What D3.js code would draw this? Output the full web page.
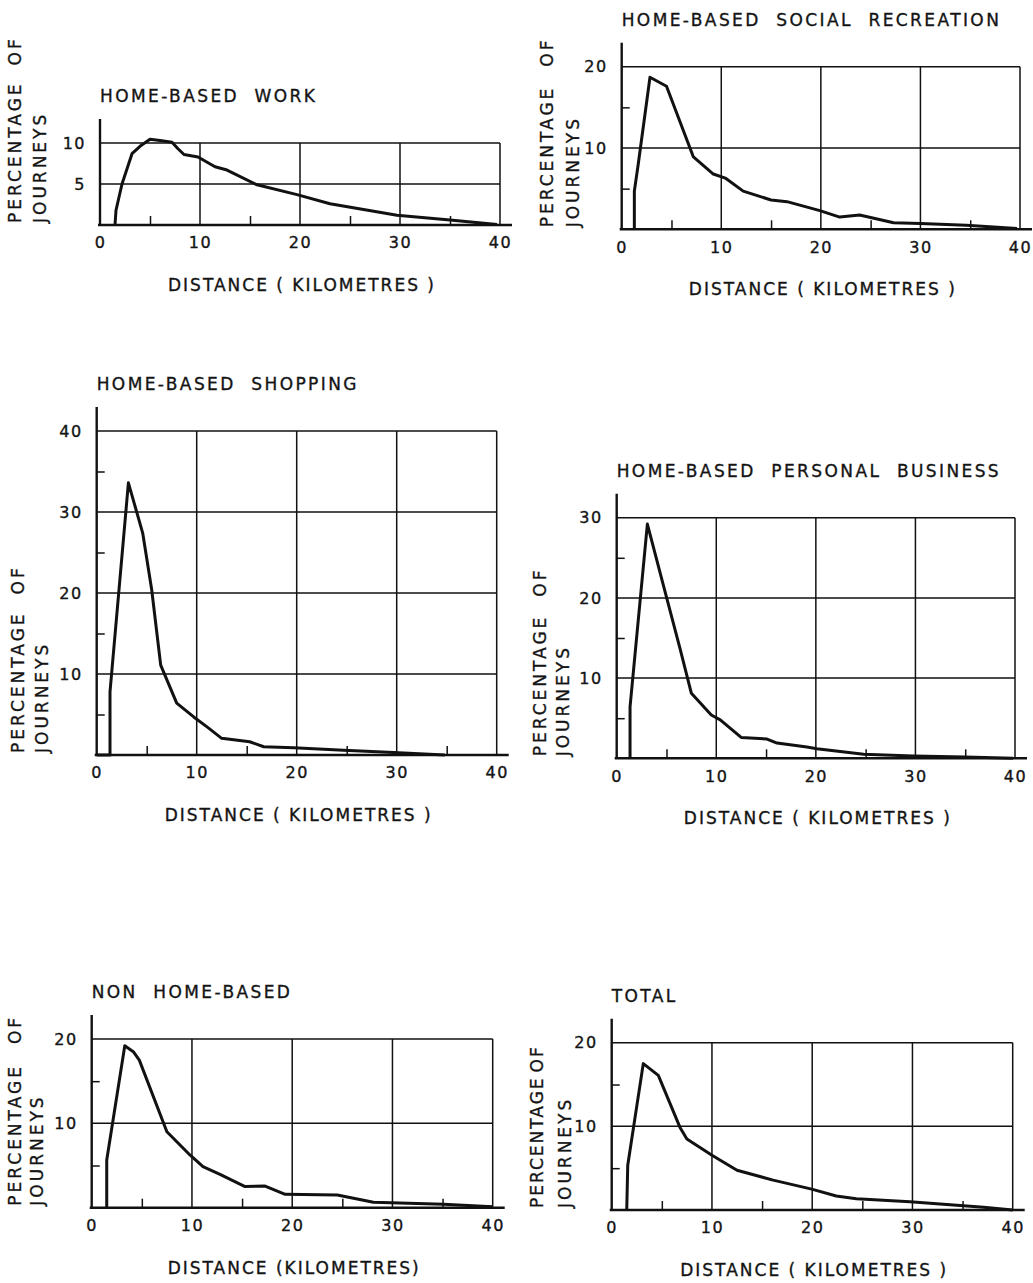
<!DOCTYPE html>
<html>
<head>
<meta charset="utf-8">
<script src="https://cdn.jsdelivr.net/npm/d3@7"></script>
<style>
  body { margin: 0; background: #fff; }
  text { font-family: "DejaVu Sans", sans-serif; fill: #141414; stroke: #141414; stroke-width: 0.35px; }
</style>
</head>
<body>
<div id="chart"></div>
<script>
// distances (km) and percentage of journeys
const workDist = [1.5, 1.6, 2.2, 3.2, 4.0, 5.0, 6.0, 7.2, 7.8, 8.4, 9.8, 11.5, 12.7, 15.7, 19.7, 23.0, 29.7, 35.0, 39.7]
const workPct  = [0, 1.8, 5.0, 8.7, 9.6, 10.45, 10.3, 10.1, 9.3, 8.6, 8.3, 7.1, 6.7, 4.9, 3.7, 2.6, 1.2, 0.6, 0.05]

const socialDist = [1.27, 1.27, 1.67, 2.84, 4.5, 7.2, 9.2, 10.4, 12.2, 15.0, 16.6, 19.9, 21.9, 23.9, 27.3, 30.0, 34.6, 39.7]
const socialPct  = [0, 4.7, 8.1, 18.7, 17.6, 8.9, 6.8, 6.3, 4.7, 3.6, 3.4, 2.3, 1.5, 1.75, 0.8, 0.7, 0.5, 0.1]

const shopDist = [0, 1.33, 1.33, 3.17, 4.6, 5.5, 6.4, 8.0, 9.7, 11.0, 12.5, 15.3, 16.7, 19.7, 24.7, 29.7, 34.8]
const shopPct  = [0, 0, 7.8, 33.6, 27.4, 20.4, 11.1, 6.4, 4.7, 3.5, 2.06, 1.64, 1.02, 0.9, 0.6, 0.3, 0]

const businessDist = [1.34, 1.34, 3.08, 5.0, 6.4, 7.5, 9.5, 10.4, 12.5, 15.1, 16.1, 19.1, 20.1, 24.8, 29.8, 35.0, 39.8]
const businessPct  = [0, 6.4, 29.2, 20.1, 13.5, 8.1, 5.4, 4.8, 2.6, 2.4, 1.9, 1.4, 1.2, 0.5, 0.3, 0.15, 0]

const nonHomeDist = [1.5, 1.5, 3.3, 4.15, 4.75, 7.5, 9.8, 11.1, 12.8, 15.3, 17.3, 19.3, 24.5, 28.1, 35.1, 40.0]
const nonHomePct  = [0, 5.66, 19.2, 18.5, 17.5, 9.0, 6.25, 4.87, 3.96, 2.5, 2.57, 1.58, 1.5, 0.64, 0.4, 0.1]

const totalDist = [1.5, 1.6, 3.15, 4.65, 6.8, 7.5, 10.0, 12.5, 16.1, 19.95, 22.4, 24.4, 29.75, 37.1, 40.0]
const totalPct  = [0, 5.36, 17.5, 16.1, 9.9, 8.5, 6.55, 4.76, 3.57, 2.5, 1.67, 1.35, 0.99, 0.32, 0]

const titles = ["HOME-BASED  WORK", "HOME-BASED  SOCIAL  RECREATION", "HOME-BASED  SHOPPING",
                "HOME-BASED  PERSONAL  BUSINESS", "NON  HOME-BASED", "TOTAL"]
const xLabels = ["DISTANCE ( KILOMETRES )", "DISTANCE ( KILOMETRES )", "DISTANCE ( KILOMETRES )",
                 "DISTANCE ( KILOMETRES )", "DISTANCE (KILOMETRES)", "DISTANCE ( KILOMETRES )"]
const xTicks = [0, 10, 20, 30, 40]
const xMinor = [5, 15, 25, 35]
const yTicksSmall = [5, 10]
const yMaxes = [10, 20, 40, 30, 20, 20]

const series = [
  [workDist, workPct], [socialDist, socialPct], [shopDist, shopPct],
  [businessDist, businessPct], [nonHomeDist, nonHomePct], [totalDist, totalPct]
]

// where each panel sits on the page (pixels)
const layout = [
  {left: 100,   right: 500,    bottom: 225,    top: 143,    pX: 21,  jX: 46,  ofGap: 16, lsp: 3},
  {left: 621.7, right: 1020,   bottom: 229.3,  top: 66.7,   pX: 553, jX: 579, ofGap: 19, lsp: 3},
  {left: 96.7,  right: 496.7,  bottom: 755,    top: 431,    pX: 24,  jX: 48,  ofGap: 17, lsp: 3},
  {left: 616.7, right: 1015,   bottom: 758.3,  top: 517.7,  pX: 546, jX: 569, ofGap: 18, lsp: 3},
  {left: 91.7,  right: 492.7,  bottom: 1207.7, top: 1039,   pX: 21,  jX: 43,  ofGap: 20, lsp: 3},
  {left: 611.7, right: 1012.7, bottom: 1210,   top: 1042.7, pX: 543, jX: 571, ofGap: 4,  lsp: 2}
]

const ink = "#111"

const svg = d3.select("#chart").append("svg")
  .attr("width", 1033)
  .attr("height", 1283)

series.forEach(function(s, i) {
  const L = layout[i]
  const yMax = yMaxes[i]
  const g = svg.append("g")

  let x = d3.scaleLinear().domain([0, 40]).range([L.left, L.right])
  let y = d3.scaleLinear().domain([0, yMax]).range([L.bottom, L.top])

  let majorY, minorY
  if (yMax == 10) {
    majorY = yTicksSmall
    minorY = []
  } else {
    majorY = d3.range(10, yMax + 1, 10)
    minorY = d3.range(5, yMax, 10)
  }

  // grid
  g.selectAll(".hgrid").data(majorY).enter().append("line")
    .attr("x1", x(0)).attr("x2", x(40))
    .attr("y1", d => y(d)).attr("y2", d => y(d))
    .attr("stroke", ink).attr("stroke-width", 1.5)
  g.selectAll(".vgrid").data(xTicks.slice(1)).enter().append("line")
    .attr("x1", d => x(d)).attr("x2", d => x(d))
    .attr("y1", y(0)).attr("y2", y(yMax))
    .attr("stroke", ink).attr("stroke-width", 1.5)

  // axes lines
  g.append("line")
    .attr("x1", x(0) - 2).attr("x2", x(40) + 12)
    .attr("y1", y(0)).attr("y2", y(0))
    .attr("stroke", ink).attr("stroke-width", 2.4)
  g.append("line")
    .attr("x1", x(0)).attr("x2", x(0))
    .attr("y1", y(0)).attr("y2", y(yMax) - 24)
    .attr("stroke", ink).attr("stroke-width", 2.4)

  // minor ticks pointing into the plot
  const minorX = g.append("g")
    .attr("transform", "translate(0," + y(0) + ")")
    .call(d3.axisTop(x).tickValues(xMinor).tickSize(9).tickFormat(""))
  minorX.select(".domain").remove()
  minorX.selectAll("line").attr("stroke", ink).attr("stroke-width", 1.5)

  const minorYAxis = g.append("g")
    .attr("transform", "translate(" + x(0) + ",0)")
    .call(d3.axisRight(y).tickValues(minorY).tickSize(8).tickFormat(""))
  minorYAxis.select(".domain").remove()
  minorYAxis.selectAll("line").attr("stroke", ink).attr("stroke-width", 1.5)

  // tick labels
  const xAxis = g.append("g")
    .attr("transform", "translate(0," + y(0) + ")")
    .call(d3.axisBottom(x).tickValues(xTicks).tickSize(0).tickPadding(12))
  xAxis.select(".domain").remove()
  xAxis.selectAll("text")
    .style("font-family", "DejaVu Sans").style("font-size", "16px")
    .style("letter-spacing", "1.5px").attr("fill", ink)

  const yAxis = g.append("g")
    .attr("transform", "translate(" + x(0) + ",0)")
    .call(d3.axisLeft(y).tickValues(majorY).tickSize(0).tickPadding(14))
  yAxis.select(".domain").remove()
  yAxis.selectAll("text")
    .style("font-family", "DejaVu Sans").style("font-size", "16px")
    .style("letter-spacing", "1.5px").attr("fill", ink)

  // data line
  const pts = s[0].map((d, k) => [d, s[1][k]])
  const line = d3.line().x(d => x(d[0])).y(d => y(d[1]))
  g.append("path")
    .datum(pts)
    .attr("d", line)
    .attr("fill", "none")
    .attr("stroke", ink)
    .attr("stroke-width", 3)
    .attr("stroke-linejoin", "round")

  // title
  g.append("text")
    .attr("x", x(0))
    .attr("y", y(yMax) - 41)
    .style("font-size", "17px")
    .style("letter-spacing", "2.4px")
    .style("white-space", "pre")
    .text(titles[i])

  // x label
  g.append("text")
    .attr("x", x(20) + 2)
    .attr("y", y(0) + 66)
    .attr("text-anchor", "middle")
    .style("font-size", "17px")
    .style("letter-spacing", "2px")
    .style("white-space", "pre")
    .text(xLabels[i])

  // y labels, rotated
  const pLab = g.append("text")
    .attr("transform", "translate(" + L.pX + "," + (y(0) - 2) + ") rotate(-90)")
    .style("font-size", "17px")
    .style("letter-spacing", L.lsp + "px")
  pLab.append("tspan").text("PERCENTAGE")
  pLab.append("tspan").attr("dx", L.ofGap).text("OF")

  g.append("text")
    .attr("transform", "translate(" + L.jX + "," + (y(0) - 2) + ") rotate(-90)")
    .style("font-size", "17px")
    .style("letter-spacing", "3px")
    .text("JOURNEYS")
})
</script>
</body>
</html>
